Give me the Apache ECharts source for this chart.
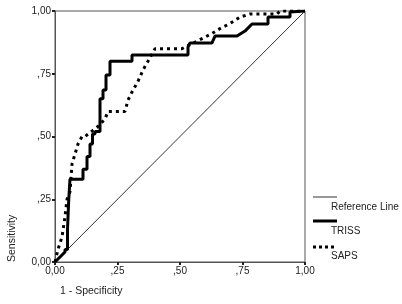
<!DOCTYPE html>
<html><head><meta charset="utf-8">
<script src="https://cdn.jsdelivr.net/npm/echarts@6/dist/echarts.min.js"></script>
<style>html,body{margin:0;padding:0;background:#fff}#c{width:402px;height:304px}</style>
</head><body><div id="c"></div>
<script>
const tickLabels = {0: '0,00', 0.25: ',25', 0.5: ',50', 0.75: ',75', 1: '1,00'};
const referenceLine = [[0, 0], [1, 1]];
const triss = [[0,0],[0.01,0.01],[0.02,0.02],[0.03,0.03],[0.04,0.04],[0.04,0.05],[0.05,0.05],[0.05,0.13],[0.055,0.13],[0.055,0.25],[0.06,0.25],[0.06,0.33],[0.112,0.33],[0.112,0.37],[0.128,0.37],[0.128,0.42],[0.14,0.42],[0.14,0.47],[0.15,0.47],[0.15,0.51],[0.16,0.51],[0.16,0.52],[0.18,0.52],[0.18,0.65],[0.192,0.65],[0.192,0.685],[0.204,0.685],[0.204,0.745],[0.22,0.745],[0.22,0.80],[0.308,0.80],[0.308,0.825],[0.532,0.825],[0.532,0.857],[0.54,0.857],[0.54,0.873],[0.628,0.873],[0.64,0.9],[0.728,0.9],[0.76,0.92],[0.788,0.948],[0.852,0.948],[0.852,0.976],[0.94,0.976],[0.94,0.996],[1,1]];
const saps = [[0,0],[0.012,0.05],[0.028,0.1],[0.04,0.18],[0.048,0.25],[0.06,0.28],[0.068,0.39],[0.08,0.43],[0.092,0.47],[0.108,0.5],[0.12,0.5],[0.172,0.54],[0.2,0.57],[0.212,0.6],[0.28,0.6],[0.292,0.645],[0.312,0.685],[0.332,0.72],[0.352,0.765],[0.372,0.8],[0.4,0.85],[0.508,0.85],[0.548,0.87],[0.628,0.91],[0.66,0.93],[0.7,0.95],[0.74,0.976],[0.78,0.988],[0.888,0.988],[0.9,1],[1,1]];
const seriesNames = ['Reference Line', 'TRISS', 'SAPS'];
const xTitle = '1 - Specificity';
const yTitle = 'Sensitivity';

const chart = echarts.init(document.getElementById('c'));
const font = 'Liberation Sans, Arial, sans-serif';
const axisCommon = {
  type: 'value', min: 0, max: 1, interval: 0.25,
  axisLine: {show: true, lineStyle: {color: '#555', width: 1}},
  axisTick: {show: true, length: 3, lineStyle: {color: '#222', width: 2}},
  splitLine: {show: false},
  axisLabel: {formatter: v => tickLabels[v], color: '#222', fontSize: 10, fontFamily: font}
};
chart.setOption({
  animation: false,
  grid: {left: 55, right: 97, top: 11, bottom: 42, show: true, borderColor: '#555', borderWidth: 1},
  xAxis: Object.assign({}, axisCommon, {axisLabel: Object.assign({}, axisCommon.axisLabel, {margin: 4})}),
  yAxis: Object.assign({}, axisCommon, {axisLabel: Object.assign({}, axisCommon.axisLabel, {margin: 4})}),
  series: [
    {name: seriesNames[0], type: 'line', data: referenceLine, symbol: 'none', lineStyle: {color: '#333', width: 1}},
    {name: seriesNames[1], type: 'line', data: triss, symbol: 'none', lineStyle: {color: '#000', width: 3}},
    {name: seriesNames[2], type: 'line', data: saps, symbol: 'none', lineStyle: {color: '#000', width: 3, type: [3, 4]}}
  ],
  graphic: [
    {type: 'text', left: 60, top: 286, style: {text: xTitle, fill: '#222', font: '10.5px ' + font}},
    {type: 'text', x: 7, y: 262, rotation: Math.PI / 2, style: {text: yTitle, fill: '#222', font: '10.5px ' + font, textAlign: 'left', textVerticalAlign: 'top'}},
    {type: 'line', shape: {x1: 313, y1: 197, x2: 337, y2: 197}, style: {stroke: '#333', lineWidth: 1}},
    {type: 'text', x: 331, y: 207, style: {text: seriesNames[0], fill: '#222', font: '10px ' + font, textVerticalAlign: 'middle'}},
    {type: 'line', shape: {x1: 313, y1: 221, x2: 337, y2: 221}, style: {stroke: '#000', lineWidth: 3}},
    {type: 'text', x: 331, y: 231, style: {text: seriesNames[1], fill: '#222', font: '10px ' + font, textVerticalAlign: 'middle'}},
    {type: 'line', shape: {x1: 313, y1: 247, x2: 337, y2: 247}, style: {stroke: '#000', lineWidth: 3, lineDash: [3, 3]}},
    {type: 'text', x: 331, y: 256, style: {text: seriesNames[2], fill: '#222', font: '10px ' + font, textVerticalAlign: 'middle'}}
  ]
});
</script></body></html>
